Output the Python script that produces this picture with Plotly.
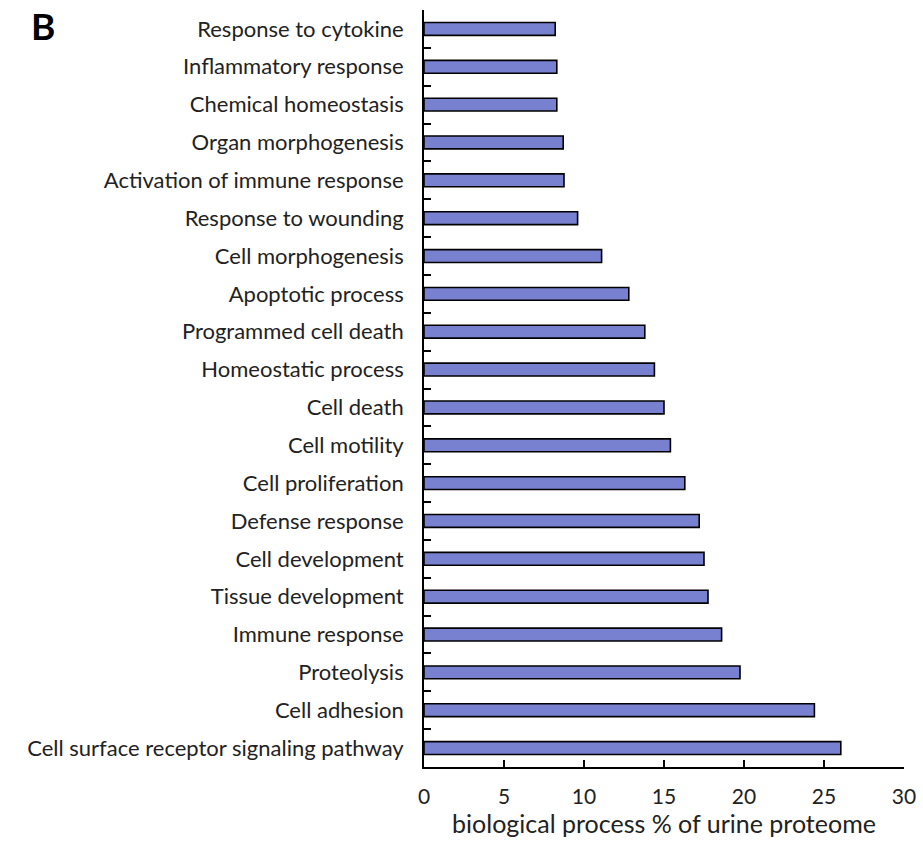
import plotly.graph_objects as go

categories = [
    "Response to cytokine",
    "Inflammatory response",
    "Chemical homeostasis",
    "Organ morphogenesis",
    "Activation of immune response",
    "Response to wounding",
    "Cell morphogenesis",
    "Apoptotic process",
    "Programmed cell death",
    "Homeostatic process",
    "Cell death",
    "Cell motility",
    "Cell proliferation",
    "Defense response",
    "Cell development",
    "Tissue development",
    "Immune response",
    "Proteolysis",
    "Cell adhesion",
    "Cell surface receptor signaling pathway",
]
values = [8.2, 8.3, 8.3, 8.7, 8.75, 9.6, 11.1, 12.8, 13.8, 14.4,
          15.0, 15.4, 16.3, 17.2, 17.5, 17.75, 18.6, 19.75, 24.4, 26.05]
x_ticks = [0, 5, 10, 15, 20, 25, 30]

FONT = "Lato"
W, H = 923, 842
L, R, T, B = 424, 19, 10, 75
PW, PH = W - L - R, H - T - B

fig = go.Figure(go.Bar(
    x=values, y=categories, orientation="h",
    width=0.34,
    marker=dict(color="#7880D0", line=dict(color="black", width=1.6)),
))

fig.update_layout(
    width=W, height=H, autosize=False,
    margin=dict(l=L, r=R, t=T, b=B, autoexpand=False),
    plot_bgcolor="white", paper_bgcolor="white",
    showlegend=False,
    font=dict(family=FONT, size=22, color="#222222"),
    xaxis=dict(
        range=[0, 30], tickvals=x_ticks, ticks="inside", ticklen=7, tickwidth=1.5,
        tickcolor="black", showline=True, linecolor="black", linewidth=1.8,
        showgrid=False, zeroline=False, ticklabelstandoff=10, automargin=False,
        tickfont=dict(family=FONT, size=21, color="#222222"),
        title=dict(text="biological process % of urine proteome",
                   font=dict(family=FONT, size=25, color="#222222"), standoff=4),
    ),
    yaxis=dict(
        categoryorder="array", categoryarray=categories,
        autorange="reversed", automargin=False,
        tickson="boundaries", ticks="inside", ticklen=7, tickwidth=1.5,
        tickcolor="black", showline=True, linecolor="black", linewidth=1.8,
        showgrid=False, zeroline=False, ticklabelstandoff=14,
        tickfont=dict(family=FONT, size=22, color="#222222"),
    ),
    annotations=[dict(text="<b>B</b>", x=(29 - L) / PW, y=1 + (T - 1) / PH,
                      xref="paper", yref="paper",
                      showarrow=False, font=dict(family=FONT, size=37, color="black"),
                      xanchor="left", yanchor="top")],
)

fig.write_html("out.html",
               config={"displayModeBar": False, "responsive": False},
               post_script="document.body.style.margin='0';document.body.style.overflow='hidden';")
